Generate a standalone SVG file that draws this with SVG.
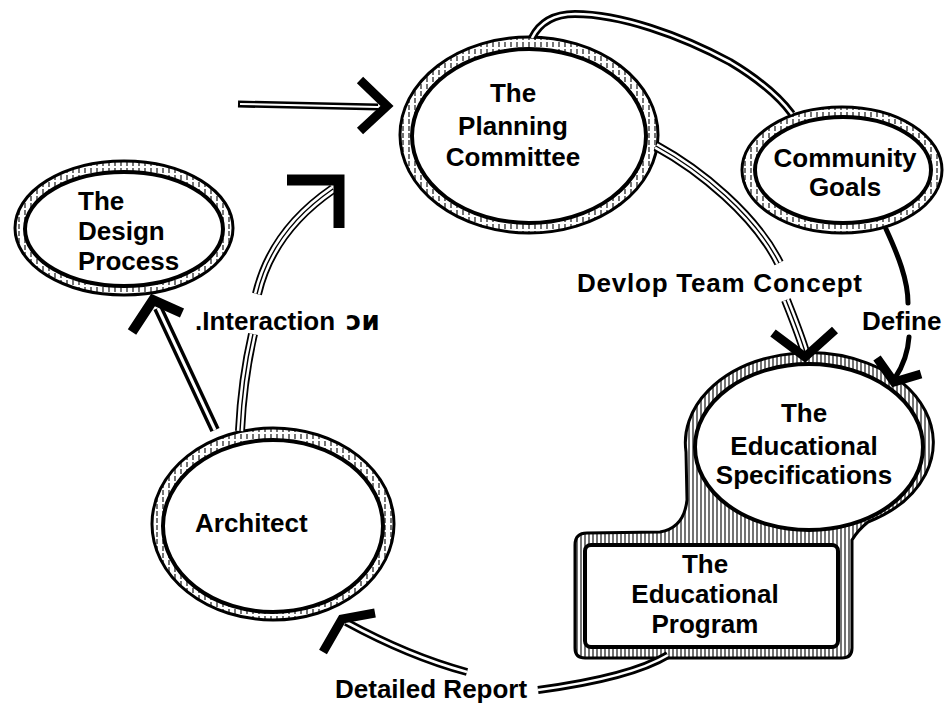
<svg xmlns="http://www.w3.org/2000/svg" width="947" height="703" viewBox="0 0 947 703">
<style>
.t{font-family:"Liberation Sans","DejaVu Sans",Arial,sans-serif;font-weight:bold;font-size:26px;fill:#000}
.c{text-anchor:middle}
.ring{fill:url(#hatch);stroke:#000;stroke-width:3}
.ring2{fill:url(#hatch2);stroke:#000;stroke-width:3}
.core{fill:#fff;stroke:#000;stroke-width:4}
.d1{fill:none;stroke:#000;stroke-width:8;stroke-linecap:butt}
.d2{fill:none;stroke:#fff;stroke-width:2.6;stroke-linecap:butt}
.t1{fill:none;stroke:#000;stroke-width:10;stroke-linecap:butt}
.t2{fill:none;stroke:#fff;stroke-width:6.4;stroke-linecap:butt}
.t3{fill:none;stroke:#000;stroke-width:1.4;stroke-linecap:butt}
.single{fill:none;stroke:#000;stroke-width:5;stroke-linecap:round}
.head{fill:none;stroke:#000;stroke-width:9;stroke-linejoin:miter;stroke-linecap:butt}
</style>
<defs>
<pattern id="hatch" patternUnits="userSpaceOnUse" width="6" height="7">
<rect width="6" height="7" fill="#fff"/>
<line x1="1" y1="0" x2="1" y2="5" stroke="#000" stroke-width="1.1"/>
</pattern>
<pattern id="hatch2" patternUnits="userSpaceOnUse" width="4" height="4">
<rect width="4" height="4" fill="#fff"/>
<line x1="1" y1="0" x2="1" y2="4" stroke="#000" stroke-width="1.1"/>
</pattern>
</defs>
<rect width="947" height="703" fill="#fff"/>

<g id="design-process">
<ellipse class="ring" cx="124" cy="228" rx="109" ry="67"/>
<ellipse class="core" cx="124" cy="229" rx="99" ry="57"/>
<text class="t" x="78" y="210" font-size="25">The</text>
<text class="t" x="78" y="240" font-size="25">Design</text>
<text class="t" x="78" y="270" font-size="25">Process</text>
</g>

<g id="planning-committee">
<ellipse class="ring" cx="529" cy="135" rx="129" ry="98"/>
<ellipse class="core" cx="529" cy="136" rx="117" ry="87"/>
<text class="t c" x="513" y="102">The</text>
<text class="t c" x="513" y="135">Planning</text>
<text class="t c" x="513" y="166">Committee</text>
</g>

<g id="community-goals">
<ellipse class="ring" cx="842" cy="170" rx="100" ry="63"/>
<ellipse class="core" cx="843" cy="170" rx="88" ry="53"/>
<text class="t c" x="845" y="167">Community</text>
<text class="t c" x="845" y="196">Goals</text>
</g>

<g id="architect">
<ellipse class="ring" cx="273" cy="524" rx="121" ry="96"/>
<ellipse class="core" cx="273" cy="526" rx="110" ry="86"/>
<text class="t" x="195" y="532" font-size="25">Architect</text>
</g>

<g id="educational-specifications">
<path class="ring2" d="M575,545 Q575,533 587,533 L660,532 Q684,528 687,500 L686,452 A124,90 0 1 1 868,522 Q858,530 852,540 L852,648 Q852,658 842,658 L585,658 Q575,658 575,648 Z"/>
<ellipse class="core" cx="809" cy="447" rx="114" ry="83"/>
<text class="t c" x="804" y="422">The</text>
<text class="t c" x="804" y="455">Educational</text>
<text class="t c" x="804" y="484">Specifications</text>
</g>

<g id="educational-program">
<rect class="core" x="585" y="545" width="253" height="102" rx="6"/>
<text class="t c" x="705" y="573">The</text>
<text class="t c" x="705" y="603">Educational</text>
<text class="t c" x="705" y="633">Program</text>
</g>

<g id="connectors">
<path class="d1" style="stroke-width:7" d="M238,104 L378,107"/>
<path class="d2" style="stroke-width:2" d="M240,104 L378,107"/>
<path class="head" d="M360,80 L387,106 L360,131"/>

<path class="d1" d="M532,38 C540,22 555,14 575,14 C620,14 680,35 730,62 C760,80 780,98 792,114"/>
<path class="d2" d="M532,38 C540,22 555,14 575,14 C620,14 680,35 730,62 C760,80 780,98 792,114"/>

<path class="t1" d="M656,146 C700,170 755,215 779,263"/>
<path class="t2" d="M656,146 C700,170 755,215 779,263"/>
<path class="t3" d="M656,146 C700,170 755,215 779,263"/>
<path class="t1" d="M786,300 C793,318 800,335 805,352"/>
<path class="t2" d="M786,300 C793,318 800,335 805,352"/>
<path class="t3" d="M786,300 C793,318 800,335 805,352"/>
<path class="head" d="M773,333 L805,357 L835,330"/>
<text class="t" x="577" y="292" textLength="285" lengthAdjust="spacing">Devlop Team Concept</text>

<path class="single" d="M886,229 C898,255 908,280 908,303"/>
<path class="single" d="M909,337 C908,352 903,366 895,378"/>
<path class="head" d="M877,358 L894,382 L921,374"/>
<text class="t" x="862" y="330">Define</text>

<path class="d1" style="stroke-width:10" d="M215,430 L158,308"/>
<path class="d2" style="stroke-width:3" d="M215,430 L158,308"/>
<path class="head" style="stroke-width:10" d="M132,332 L153,300 L182,313"/>

<path class="t1" d="M240,431 C242,390 247,360 253,334"/>
<path class="t2" d="M240,431 C242,390 247,360 253,334"/>
<path class="t3" d="M240,431 C242,390 247,360 253,334"/>
<path class="t1" d="M257,294 C265,260 285,222 333,189"/>
<path class="t2" d="M257,294 C265,260 285,222 333,189"/>
<path class="t3" d="M257,294 C265,260 285,222 333,189"/>
<path class="head" style="stroke-width:11" d="M287,180 L339,180 L339,228"/>
<text class="t" x="195" y="330" font-size="25">.Interaction</text>
<text class="t" x="346" y="330" font-size="24" style="font-family:'DejaVu Sans',sans-serif">ɔᴎ</text>

<path class="d1" d="M668,655 C640,672 590,683 538,690"/>
<path class="d2" d="M668,655 C640,672 590,683 538,690"/>
<path class="d1" d="M467,672 C430,662 390,646 346,622"/>
<path class="d2" d="M467,672 C430,662 390,646 346,622"/>
<path class="head" d="M323,652 L342,619 L375,613"/>
<text class="t" x="335" y="698">Detailed Report</text>
</g>
</svg>
